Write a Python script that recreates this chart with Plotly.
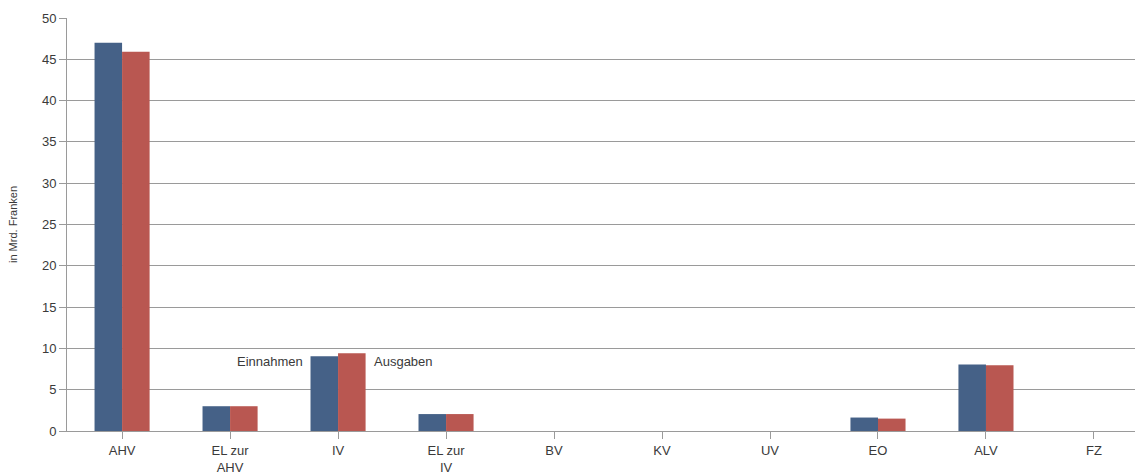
import plotly.graph_objects as go

categories = ["AHV", "EL zur<br>AHV", "IV", "EL zur<br>IV", "BV", "KV", "UV", "EO", "ALV", "FZ"]
einnahmen = [47.0, 3.0, 9.05, 2.05, 0, 0, 0, 1.63, 8.05, 0]
ausgaben = [45.9, 3.0, 9.4, 2.05, 0, 0, 0, 1.5, 7.95, 0]
y_ticks = [0, 5, 10, 15, 20, 25, 30, 35, 40, 45, 50]

blue = "#456187"
red = "#b95751"
font_family = "Liberation Sans, Arial, sans-serif"
text_color = "#3a3a3a"
grid_color = "#9a9a9a"

x_idx = list(range(len(categories)))

fig = go.Figure()
fig.add_trace(go.Bar(x=x_idx, y=einnahmen, name="Einnahmen", marker_color=blue,
                     marker_line_width=0, showlegend=False))
fig.add_trace(go.Bar(x=x_idx, y=ausgaben, name="Ausgaben", marker_color=red,
                     marker_line_width=0, showlegend=False))

fig.add_annotation(x=2, y=8.45, xref="x", yref="y", text="Einnahmen", showarrow=False,
                   xanchor="right", xshift=-33, font=dict(size=13, color=text_color, family=font_family))
fig.add_annotation(x=2, y=8.45, xref="x", yref="y", text="Ausgaben", showarrow=False,
                   xanchor="left", xshift=34, font=dict(size=13, color=text_color, family=font_family))

fig.update_layout(
    width=1135, height=473,
    margin=dict(l=67, r=0, t=18, b=42, pad=0),
    plot_bgcolor="white", paper_bgcolor="white",
    barmode="group", bargap=0.49, bargroupgap=0,
    font=dict(family=font_family, color=text_color, size=13),
    xaxis=dict(
        range=[-0.51, 9.38],
        tickmode="array", tickvals=x_idx, ticktext=categories,
        ticks="outside", ticklen=7, tickcolor=grid_color, tickwidth=1,
        showgrid=False, showline=True, linecolor=grid_color, linewidth=1,
        tickfont=dict(size=13, color=text_color),
        zeroline=False, automargin=False,
    ),
    yaxis=dict(
        range=[0, 50],
        tickmode="array", tickvals=y_ticks,
        ticks="outside", ticklen=7, tickcolor=grid_color, tickwidth=1,
        showgrid=True, gridcolor=grid_color, gridwidth=1,
        showline=True, linecolor=grid_color, linewidth=1,
        zeroline=False, automargin=False,
        tickfont=dict(size=13, color=text_color),
        title=dict(text="in Mrd. Franken", font=dict(size=11, color=text_color), standoff=22),
    ),
)

fig.write_html("out.html")
